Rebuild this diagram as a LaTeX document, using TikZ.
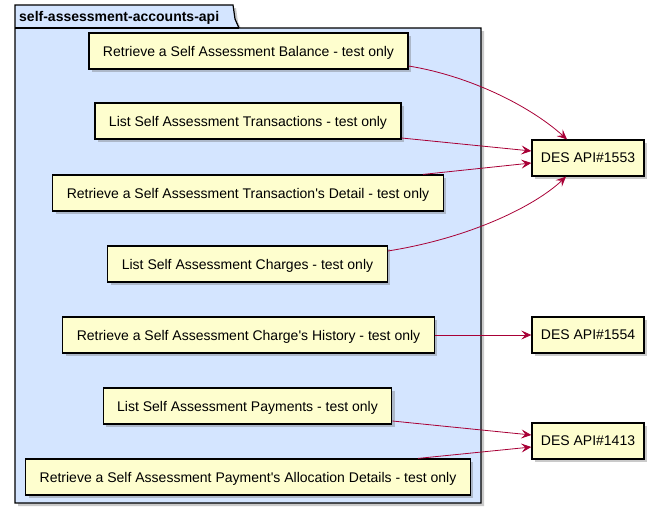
\documentclass[tikz,border=0pt]{standalone}
\usepackage{fontspec}
\setmainfont{Liberation Sans}[Ligatures=TeXOff]
\usetikzlibrary{calc,shadows,arrows.meta}
\definecolor{boxfill}{HTML}{FEFECE}
\definecolor{pkgfill}{HTML}{D4E5FF}
\definecolor{arrowcol}{HTML}{A80036}
\tikzset{
  shad/.style={drop shadow={shadow xshift=3pt,shadow yshift=-3pt,opacity=0.35,fill=black!60}},
  ucbox/.style={draw=black,fill=boxfill,line width=1.2pt,minimum height=36pt,inner xsep=14pt,
    text depth=0pt,font=\fontsize{14pt}{16pt}\selectfont,shad},
  desbox/.style={ucbox,inner xsep=9pt},
  link/.style={draw=arrowcol,line width=0.8pt,-{Stealth[length=10pt,width=9pt,inset=4pt]}},
}
\begin{document}
\begin{tikzpicture}[x=1pt,y=-1pt]
\useasboundingbox (0,0) rectangle (656,509);
% package
\path[draw=black,fill=pkgfill,line width=1.2pt,shad] (15,5) -- (233,5) -- (235,19) -- (239,28) -- (481,28) -- (481,503) -- (15,503) -- cycle;
\draw[line width=1.2pt] (15,28) -- (239,28);
\node[anchor=base west,inner sep=0pt,font=\bfseries\fontsize{14pt}{16pt}\selectfont] (title) at (19,21.5) {self-assessment-accounts-api};
% nodes
\node[ucbox] (n1) at (248.5,51) {Retrieve a Self Assessment Balance - test only};
\node[ucbox] (n2) at (248,121) {List Self Assessment Transactions - test only};
\node[ucbox] (n3) at (248,193) {Retrieve a Self Assessment Transaction's Detail - test only};
\node[ucbox] (n4) at (247.5,264) {List Self Assessment Charges - test only};
\node[ucbox] (n5) at (248.5,335) {Retrieve a Self Assessment Charge's History - test only};
\node[ucbox] (n6) at (247.5,406) {List Self Assessment Payments - test only};
\node[ucbox] (n7) at (248,477) {Retrieve a Self Assessment Payment's Allocation Details - test only};
\node[desbox] (d1) at (588,158) {DES API\#1553};
\node[desbox] (d2) at (588,335) {DES API\#1554};
\node[desbox] (d3) at (588,441) {DES API\#1413};
% links
\draw[link] ($(n1.east)+(0,15)$) .. controls (470,76) and (530,106) .. ($(d1.north)+(-21,0)$);
\draw[link] ($(n2.east)+(0,17)$) -- ($(d1.west)+(0,-7)$);
\draw[link] ($(n3.north)+(175,0)$) -- ($(d1.west)+(0,5)$);
\draw[link] ($(n4.east)+(0,-13)$) .. controls (470,238) and (535,206) .. ($(d1.south)+(-22,0)$);
\draw[link] (n5.east) -- (d2.west);
\draw[link] ($(n6.east)+(0,15)$) -- ($(d3.west)+(0,-6)$);
\draw[link] ($(n7.north)+(170,0)$) -- ($(d3.west)+(0,6)$);
\end{tikzpicture}
\end{document}
